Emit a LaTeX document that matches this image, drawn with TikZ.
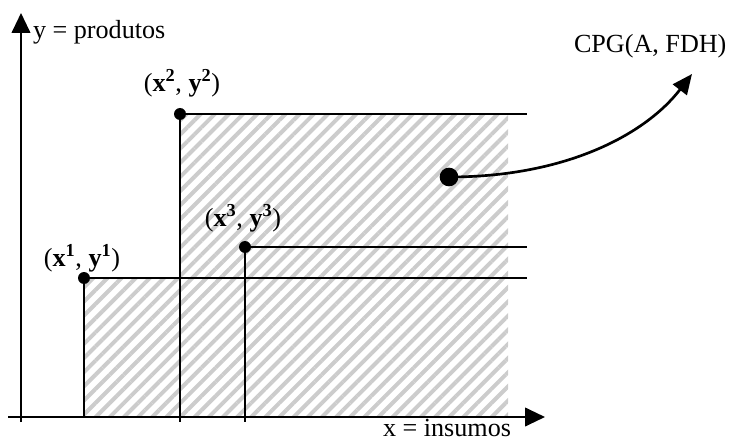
\documentclass[tikz,border=0pt]{standalone}
\usepackage{fontspec}
\setmainfont{Liberation Serif}
\usetikzlibrary{arrows.meta,patterns.meta}
\begin{document}
\begin{tikzpicture}[x=0.75pt,y=-0.75pt,
  line width=1.5pt,
  dot/.style={circle,fill=black,inner sep=0pt,minimum size=9pt},
  bigdot/.style={circle,fill=black,inner sep=0pt,minimum size=14pt},
  lbl/.style={inner sep=0pt,font=\fontsize{19.6}{22}\selectfont},
  hatch/.style={pattern={Lines[angle=45,distance=7.5pt,line width=3pt]},pattern color=gray!40},
  axis/.style={-{Triangle[length=15pt,width=14pt]}}]
\useasboundingbox (0,0) rectangle (732,442);
% hatched region
\fill[hatch] (84,417) -- (84,278) -- (180,278) -- (180,114) -- (508,114) -- (508,417) -- cycle;
% coordinates
\coordinate (yb) at (21,422);
\coordinate (yt) at (21,13);
\coordinate (xl) at (8,417);
\coordinate (xr) at (545,417);
\coordinate (O) at (21,417);
\coordinate (e1) at (527,278);
\coordinate (e2) at (527,114);
\coordinate (e3) at (527,247);
\coordinate (t2) at (180,422);
\coordinate (t3) at (245,422);
% points
\node[dot] (p1) at (84,278) {};
\node[dot] (p2) at (180,114) {};
\node[dot] (p3) at (245,247) {};
% lines
\draw (p1.center) -- (e1);
\draw (p2.center) -- (e2);
\draw (p3.center) -- (e3);
\draw (p1.center) -- (p1 |- O);
\draw (p2.center) -- (t2);
\draw (p3.center) -- (t3);
% axes
\draw[axis] (yb) -- (yt);
\draw[axis] (xl) -- (xr);
% labels
\node[lbl,anchor=base west] (ylab) at (32,39) {y = produtos};
\node[lbl,anchor=base west] (xlab) at (382,436) {x = insumos};
\node[lbl,anchor=base west] (cpg) at (573,53) {CPG(A, FDH)};
\node[lbl] (l1) at (82,258) {(\textbf{x}\textsuperscript{\textbf{1}}, \textbf{y}\textsuperscript{\textbf{1}})};
\node[lbl] (l2) at (182,83) {(\textbf{x}\textsuperscript{\textbf{2}}, \textbf{y}\textsuperscript{\textbf{2}})};
\node[lbl] (l3) at (243,218) {(\textbf{x}\textsuperscript{\textbf{3}}, \textbf{y}\textsuperscript{\textbf{3}})};
% curve
\node[bigdot] (c) at (449,177) {};
\coordinate (ct) at (692,74);
\draw[line width=2pt,-{Triangle[length=15pt,width=13pt]}] (c.center) .. controls (565,177) and (645,135) .. (ct);
\end{tikzpicture}
\end{document}
